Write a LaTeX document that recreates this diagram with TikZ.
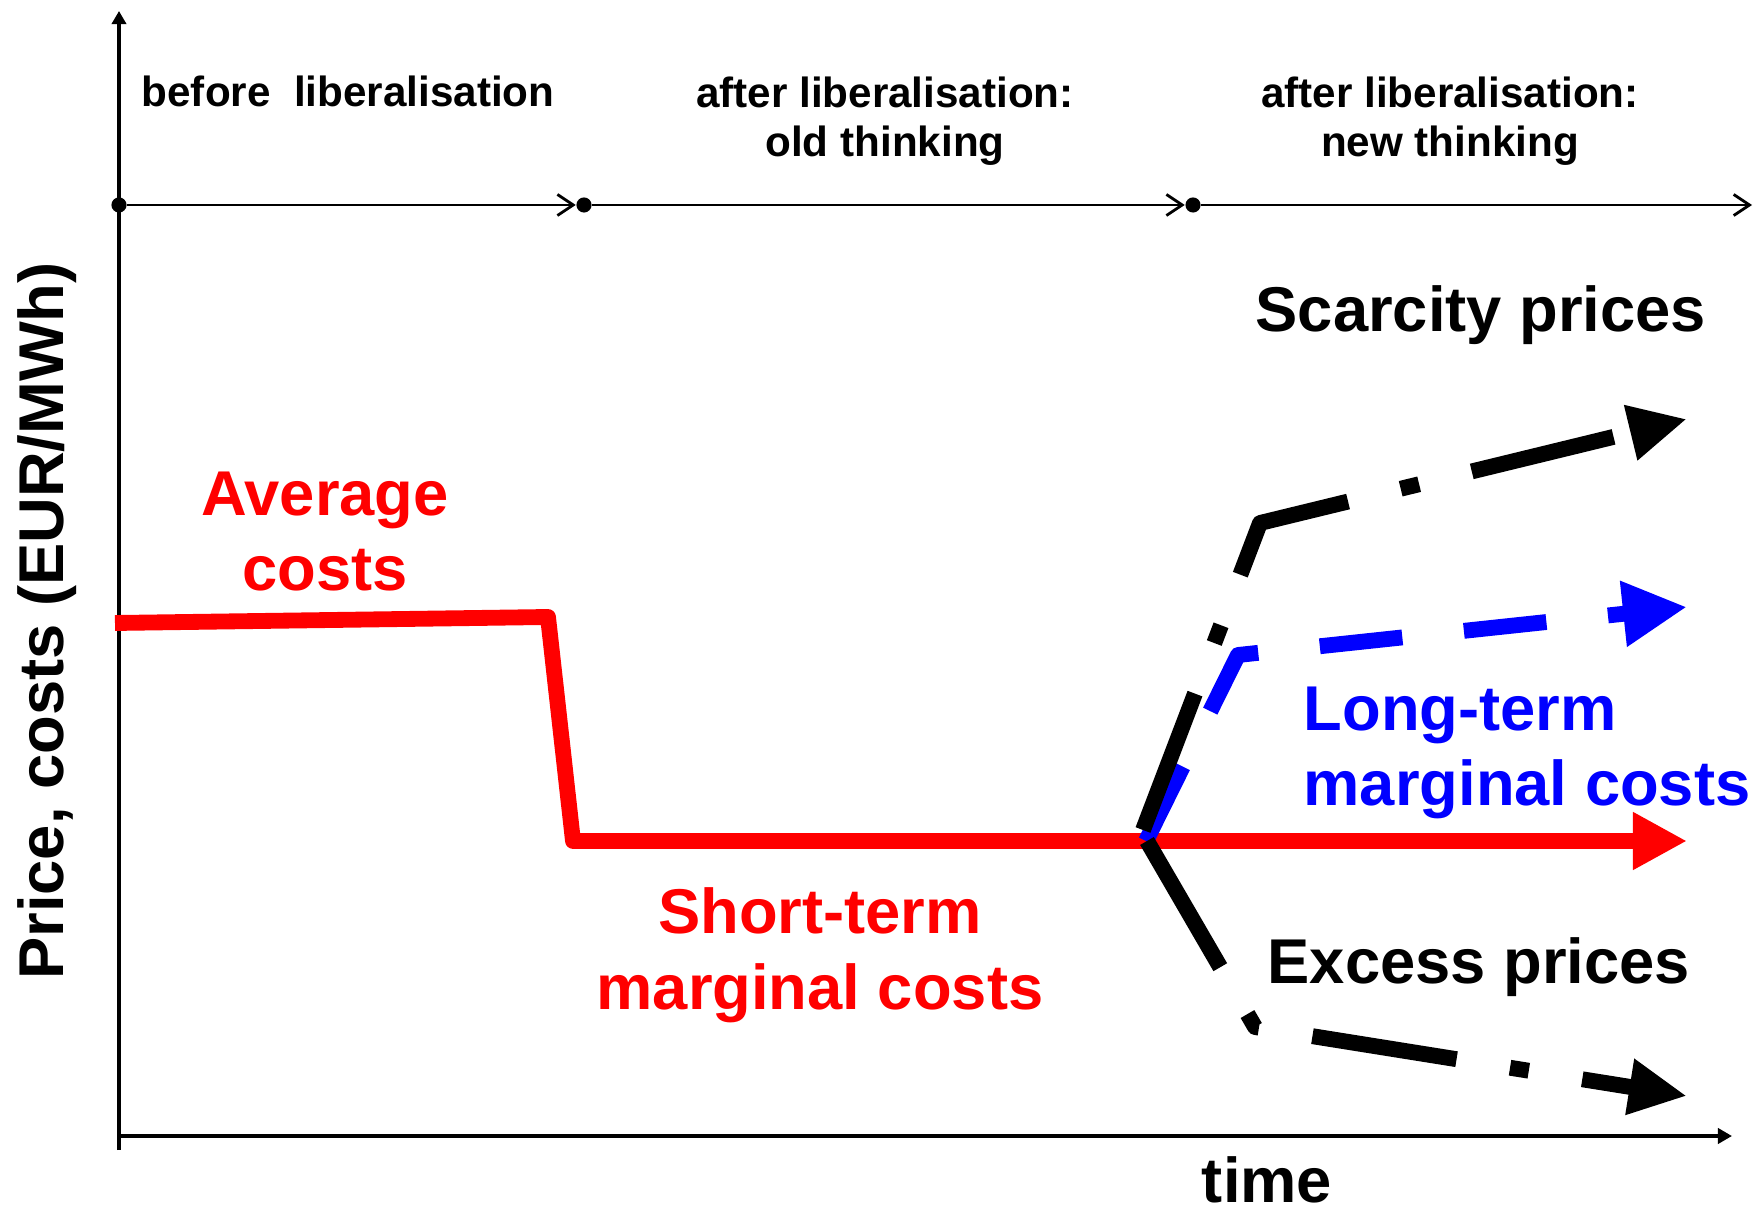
\documentclass[tikz,border=0pt]{standalone}
\usepackage{fontspec}
\setmainfont{Liberation Sans}
\usetikzlibrary{arrows.meta}

\begin{document}
\begin{tikzpicture}[x=0.01cm,y=-0.01cm,
    big/.style={inner sep=0pt,font=\bfseries\fontsize{18}{21.5}\selectfont},
    small/.style={inner sep=0pt,font=\bfseries\fontsize{12}{14.2}\selectfont},
    axis/.style={line width=1pt},
    stage/.style={line width=0.8pt,-{Straight Barb[length=4.5pt,width=6pt]}},
    dot/.style={circle,fill,inner sep=0pt,minimum size=4.3pt},
    heavy/.style={line width=4.5pt,line join=round},
    dashdot/.style={heavy,dash pattern=on 41.5pt off 15.4pt on 5.4pt off 15.4pt,-{Triangle[length=16.5pt,width=15pt]}}]
  \useasboundingbox (0,0) rectangle (1754,1213);
  % axes
  \coordinate (o) at (119,1136);
  \coordinate (ybot) at (119,1150);
  \coordinate (ytop) at (119,11);
  \coordinate (xend) at (1732,1136);
  \draw[axis,-{Triangle[length=3.7pt,width=4pt]}] (ybot) -- (ytop);
  \draw[axis,-{Triangle[length=4pt,width=4.3pt]}] (o) -- (xend);
  % periods
  \node[dot] (t0) at (119,205) {};
  \node[dot] (t1) at (584,205) {};
  \node[dot] (t2) at (1193,205) {};
  \coordinate (t3) at (1752,205);
  \draw[stage] (t0) -- (t1);
  \draw[stage] (t1) -- (t2);
  \draw[stage] (t2) -- (t3);
  \node[small,anchor=base west] (before) at (141,107) {before~~liberalisation};
  \node[small,align=center,anchor=base] (old) at (885,157) {after liberalisation:\\old thinking};
  \node[small,align=center,anchor=base] (new) at (1450,157) {after liberalisation:\\new thinking};
  % costs
  \coordinate (a0) at (115,623);
  \coordinate (a1) at (548,617);
  \coordinate (a2) at (573,841);
  \coordinate (a3) at (1687,841);
  \draw[heavy,red,-{Triangle[length=15.4pt,width=15.4pt]}] (a0) -- (a1) -- (a2) -- (a3);
  \coordinate (l0) at (1146,841);
  \coordinate (l1) at (1238,655);
  \coordinate (l2) at (1687,607);
  \draw[heavy,blue,dash pattern=on 23.6pt off 17.6pt,-{Triangle[length=18.2pt,width=17.6pt]}] (l0) -- (l1) -- (l2);
  \coordinate (s0) at (1143,830);
  \coordinate (s1) at (1260,523);
  \coordinate (s2) at (1687,419);
  \draw[dashdot] (s0) -- (s1) -- (s2);
  \coordinate (e0) at (1147,841);
  \coordinate (e1) at (1255,1027);
  \coordinate (e2) at (1687,1096);
  \draw[dashdot] (e0) -- (e1) -- (e2);
  % labels
  \node[big,red,align=center,anchor=base] (avg) at (325,591) {Average\\costs};
  \node[big,red,align=center,anchor=base] (stmc) at (820,1009) {Short-term\\marginal costs};
  \node[big,blue,align=left,anchor=base west] (lrmc) at (1303,806) {Long-term\\marginal costs};
  \node[big,anchor=base west] (scarcity) at (1255,332) {Scarcity prices};
  \node[big,anchor=base west] (excess) at (1267,983) {Excess prices};
  \node[big,anchor=base] (time) at (1267,1202) {time};
  \node[big,rotate=90,anchor=base] (ylab) at (64,621) {Price, costs (EUR/MWh)};
\end{tikzpicture}
\end{document}
